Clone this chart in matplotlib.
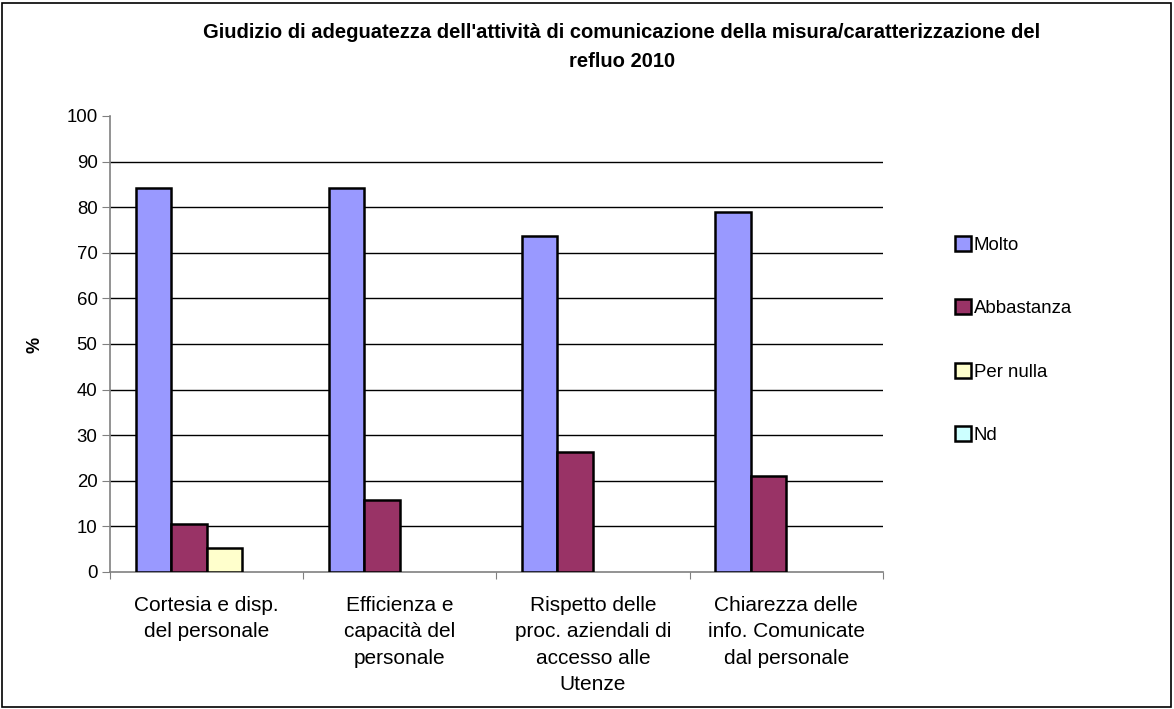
import matplotlib
matplotlib.use("Agg")
import matplotlib.pyplot as plt
import numpy as np
from matplotlib.patches import Rectangle, Patch

plt.rcParams['font.family'] = ['Liberation Sans', 'DejaVu Sans']

categories = [
    "Cortesia e disp.\ndel personale",
    "Efficienza e\ncapacità del\npersonale",
    "Rispetto delle\nproc. aziendali di\naccesso alle\nUtenze",
    "Chiarezza delle\ninfo. Comunicate\ndal personale",
]
series_names = ["Molto", "Abbastanza", "Per nulla", "Nd"]
molto = [84.2, 84.2, 73.7, 78.9]
abbastanza = [10.5, 15.8, 26.3, 21.1]
per_nulla = [5.3, 0, 0, 0]
nd = [0, 0, 0, 0]
colors = ["#9999FF", "#993366", "#FFFFCC", "#CCFFFF"]
yticks = [0, 10, 20, 30, 40, 50, 60, 70, 80, 90, 100]

W, H = 1174, 709
fig = plt.figure(figsize=(W / 100, H / 100), dpi=100)
ax = fig.add_axes([110 / W, 1 - 572 / H, (882.8 - 110) / W, (572 - 116) / H])

x = np.arange(len(categories))
bw = 0.184
values = [molto, abbastanza, per_nulla, nd]
for i, (name, vals, col) in enumerate(zip(series_names, values, colors)):
    offs = (i - 1.5) * bw
    bars = ax.bar(x + offs, vals, width=bw, color=col, edgecolor="black",
                  linewidth=1.8, zorder=3)
    # empty categories leave no visible mark
    for b, v in zip(bars, vals):
        if v == 0:
            b.set_visible(False)

ax.set_xlim(-0.5, len(categories) - 0.5)
ax.set_ylim(0, 100)
ax.set_yticks(yticks)
ax.set_yticklabels([str(t) for t in yticks], fontsize=13.4)
for t in yticks[1:-1]:
    ax.axhline(t, color="black", linewidth=1, zorder=1)

# category labels centred under each group; ticks at group boundaries
ax.set_xticks(np.arange(len(categories) + 1) - 0.5)
ax.set_xticklabels([])
ax.tick_params(axis="x", length=5, direction="out", color="#808080")
ax.tick_params(axis="y", length=6, direction="out", color="#808080", pad=3)
for xi, lab in zip(x, categories):
    ax.text(xi, -5.2, lab, ha="center", va="top", fontsize=15,
            linespacing=1.5, clip_on=False)

for s in ["top", "right"]:
    ax.spines[s].set_visible(False)
for s in ["left", "bottom"]:
    ax.spines[s].set_color("#808080")
    ax.spines[s].set_linewidth(1.2)

fig.text(35 / W, 1 - 345 / H, "%", rotation=90, ha="center", va="center",
         fontsize=13, fontweight="bold")

fig.text(622 / W, 1 - 47 / H,
         "Giudizio di adeguatezza dell'attività di comunicazione della misura/caratterizzazione del\nrefluo 2010",
         ha="center", va="center", fontsize=14.5, fontweight="bold", linespacing=1.7)

handles = [Patch(facecolor=c, edgecolor="black", linewidth=1.8) for c in colors]
leg = fig.legend(handles, series_names, loc="upper left",
                 bbox_to_anchor=(955 / W, 1 - 236 / H),
                 frameon=False, fontsize=13.4, labelspacing=2.45,
                 handlelength=0.85, handleheight=0.85, handletextpad=0.15,
                 borderaxespad=0, borderpad=0)

fig.patches.append(Rectangle((2 / W, 2 / H), 1169 / W, 704 / H,
                             transform=fig.transFigure, fill=False,
                             edgecolor="black", linewidth=1.2))

fig.savefig("out.png", dpi=100, facecolor="white")
